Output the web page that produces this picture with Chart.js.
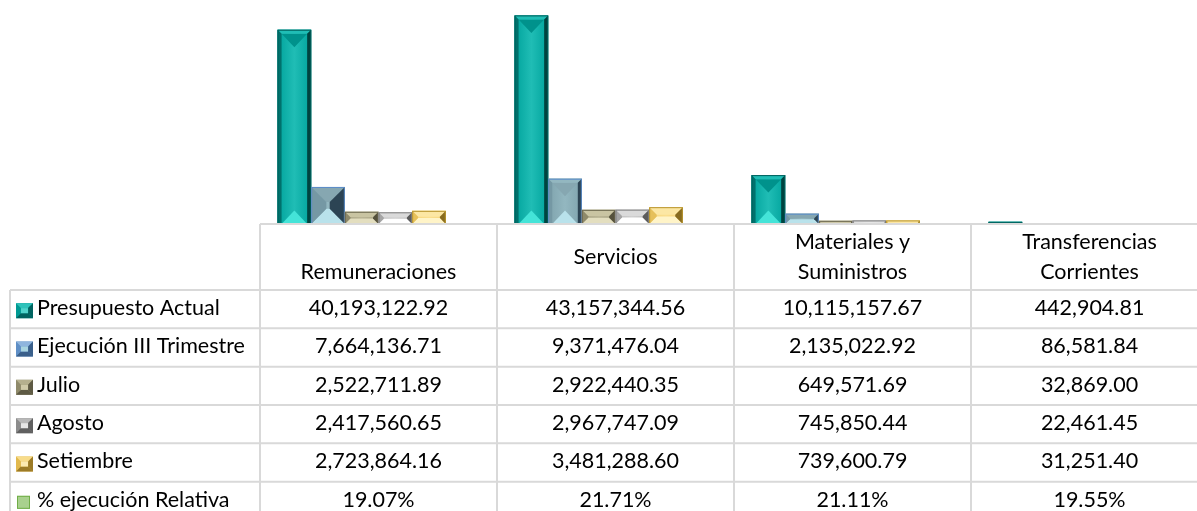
<!DOCTYPE html>
<html><head><meta charset="utf-8">
<script src="https://cdn.jsdelivr.net/npm/chart.js@4/dist/chart.umd.min.js"></script>
<style>
html,body{margin:0;padding:0;background:#fff;overflow:hidden;}
#wrap{position:relative;width:1210px;height:511px;}
</style></head><body>
<div id="wrap"><canvas id="c" width="1210" height="511"></canvas></div>
<script>
// ---- data ----
const categories = [['', 'Remuneraciones'], ['Servicios'], ['Materiales y', 'Suministros'], ['Transferencias', 'Corrientes']];
const seriesNames = ['Presupuesto Actual', 'Ejecución III Trimestre', 'Julio', 'Agosto', 'Setiembre', '% ejecución Relativa'];
const presupuestoActual = [40193122.92, 43157344.56, 10115157.67, 442904.81];
const ejecucionIII = [7664136.71, 9371476.04, 2135022.92, 86581.84];
const julio = [2522711.89, 2922440.35, 649571.69, 32869.00];
const agosto = [2417560.65, 2967747.09, 745850.44, 22461.45];
const setiembre = [2723864.16, 3481288.60, 739600.79, 31251.40];
const ejecucionRelativa = [19.07, 21.71, 21.11, 19.55]; // percent
const valueAxisMax = 45000000;

// ---- styles ----
const palettes = [
  {face:'#00A39C', mid:'#20BDB5', top:'#00928C', bottom:'#44E4D8', left:'#00716C', right:'#00433F', edge:'#005F5B', key:'#009A93', keyTop:'#2FC2BA', keyDark:'#006360', keyIn:'#4FD3CB'},
  {face:'#7FA3AD', mid:'#93B7C0', top:'#86A7B1', bottom:'#B9E2EB', left:'#7598A4', right:'#2C4454', edge:'#5B8DC9', key:'#5F8FC6', keyTop:'#8FB5DE', keyDark:'#3A5F8A', keyIn:'#A9D4E0'},
  {face:'#A29E7E', mid:'#B3AF8F', top:'#C9C4A2', bottom:'#E3DEBF', left:'#8E896A', right:'#55513C', edge:'#6E6A51', key:'#8F8A6A', keyTop:'#B5B08E', keyDark:'#5E5A44', keyIn:'#CFCAA8'},
  {face:'#BDBDBD', mid:'#CFCFCF', top:'#DADADA', bottom:'#FFFFFF', left:'#A5A5A5', right:'#5C5C5C', edge:'#7F7F7F', key:'#8C8C8C', keyTop:'#B8B8B8', keyDark:'#606060', keyIn:'#E6E6E6'},
  {face:'#F7D67A', mid:'#FADF90', top:'#FCE7A4', bottom:'#FFF4C8', left:'#E6C05A', right:'#876B20', edge:'#B8952E', key:'#E2B94E', keyTop:'#F8DC8A', keyDark:'#9C7B26', keyIn:'#FCEAB0'},
  {face:'#A9D18E', mid:'#B5D99D', top:'#A9D18E', bottom:'#A9D18E', left:'#A9D18E', right:'#A9D18E', edge:'#70AD47'}
];
const gridColor = '#D9D9D9';
const FONT = '21.5px Lato';

function poly(ctx, pts, fill) {
  ctx.beginPath();
  ctx.moveTo(pts[0][0], pts[0][1]);
  for (let i = 1; i < pts.length; i++) ctx.lineTo(pts[i][0], pts[i][1]);
  ctx.closePath();
  ctx.fillStyle = fill;
  ctx.fill();
}

function drawBevel(ctx, l, t, r, b, p) {
  const w = r - l, h = b - t;
  if (h <= 0 || w <= 0) return;
  const cx = (l + r) / 2;
  const g = ctx.createLinearGradient(l, 0, r, 0);
  g.addColorStop(0, p.face); g.addColorStop(0.5, p.mid); g.addColorStop(1, p.face);
  ctx.fillStyle = g;
  ctx.fillRect(l, t, w, h);
  if (h < 1.5) return;
  if (h <= w * 1.3) {
    const d = Math.min(w, h) / 2 * 0.9;
    poly(ctx, [[l, t], [r, t], [r - d, t + d], [l + d, t + d]], p.top);
    poly(ctx, [[l, b], [r, b], [r - d, b - d], [l + d, b - d]], p.bottom);
    poly(ctx, [[l, t], [l + d, t + d], [l + d, b - d], [l, b]], p.left);
    poly(ctx, [[r, t], [r - d, t + d], [r - d, b - d], [r, b]], p.right);
  } else {
    const ds = w * 0.12, dv = w * 0.4;
    poly(ctx, [[l + ds, t + ds], [r - ds, t + ds], [cx, t + ds + dv]], p.top);
    poly(ctx, [[l, t], [r, t], [r - ds, t + ds], [l + ds, t + ds]], p.mid);
    poly(ctx, [[l + ds, b], [r - ds, b], [cx, b - dv]], p.bottom);
    poly(ctx, [[l, t], [l + ds, t + ds], [l + ds, b], [l, b]], p.left);
    poly(ctx, [[r, t], [r - ds, t + ds], [r - ds, b], [r, b]], p.right);
  }
  ctx.strokeStyle = p.edge;
  ctx.lineWidth = 1;
  ctx.strokeRect(l + 0.5, t + 0.5, w - 1, h - 1);
}

function drawKey(ctx, l, t, r, b, p) {
  const w = r - l, h = b - t, d = Math.min(w, h) * 0.33;
  ctx.fillStyle = p.key; ctx.fillRect(l, t, w, h);
  poly(ctx, [[l, t], [r, t], [r - d, t + d], [l + d, t + d]], p.keyTop);
  poly(ctx, [[l, b], [r, b], [r - d, b - d], [l + d, b - d]], p.keyDark);
  poly(ctx, [[r, t], [r - d, t + d], [r - d, b - d], [r, b]], p.keyDark);
  ctx.fillStyle = p.keyIn;
  ctx.fillRect(l + d, t + d, w - 2 * d, h - 2 * d);
}

const bevelPlugin = {
  id: 'bevel',
  afterDatasetsDraw(chart) {
    const ctx = chart.ctx;
    ctx.save();
    chart.data.datasets.forEach((ds, i) => {
      const meta = chart.getDatasetMeta(i);
      meta.data.forEach(el => {
        const l = el.x - el.width / 2, r = el.x + el.width / 2;
        const t = Math.min(el.y, el.base), b = Math.max(el.y, el.base);
        drawBevel(ctx, l, t, r, b, palettes[i]);
      });
    });
    ctx.restore();
  }
};

function fmtNum(v) {
  return v.toLocaleString('en-US', {minimumFractionDigits: 2, maximumFractionDigits: 2});
}

const tablePlugin = {
  id: 'dataTable',
  afterDraw(chart) {
    const ctx = chart.ctx;
    const ca = chart.chartArea;
    const xs = chart.scales.x;
    const n = categories.length;
    const colW = (ca.right - ca.left) / n;
    const headTop = ca.bottom, headBot = ca.bottom + 66, rowH = 38.33;
    const tableLeft = 10;
    const rows = [presupuestoActual, ejecucionIII, julio, agosto, setiembre, ejecucionRelativa];
    const bottom = headBot + rowH * rows.length;
    ctx.save();
    ctx.strokeStyle = gridColor;
    ctx.lineWidth = 2;
    ctx.beginPath();
    ctx.moveTo(ca.left, headTop); ctx.lineTo(chart.width, headTop);
    for (let k = 0; k <= rows.length; k++) {
      const y = headBot + rowH * k;
      ctx.moveTo(tableLeft, y); ctx.lineTo(chart.width, y);
    }
    ctx.moveTo(tableLeft, headBot); ctx.lineTo(tableLeft, bottom);
    for (let c = 0; c <= n; c++) {
      const x = ca.left + colW * c;
      ctx.moveTo(x, headTop); ctx.lineTo(x, bottom);
    }
    ctx.stroke();

    ctx.font = FONT;
    ctx.fillStyle = '#000';
    ctx.textBaseline = 'middle';
    ctx.textAlign = 'center';
    categories.forEach((lines, c) => {
      const cx = xs.getPixelForValue(c);
      const mid = (headTop + headBot) / 2;
      const lh = 30;
      lines.forEach((ln, j) => {
        const y = mid + (j - (lines.length - 1) / 2) * lh;
        ctx.fillText(ln, cx, y);
      });
    });
    rows.forEach((vals, r) => {
      const yc = headBot + rowH * r + rowH / 2 - 1;
      const p = palettes[r];
      if (r < 5) drawKey(ctx, 16, yc - 5, 33, yc + 10, p);
      else {
        ctx.fillStyle = p.face; ctx.fillRect(17, yc - 4, 13, 13);
        ctx.strokeStyle = p.edge; ctx.lineWidth = 1; ctx.strokeRect(17.5, yc - 3.5, 12, 12);
      }
      ctx.fillStyle = '#000';
      ctx.textAlign = 'left';
      ctx.fillText(seriesNames[r], 37, yc);
      ctx.textAlign = 'center';
      vals.forEach((v, c) => {
        const txt = r === 5 ? v.toFixed(2) + '%' : fmtNum(v);
        ctx.fillText(txt, xs.getPixelForValue(c), yc);
      });
    });
    ctx.restore();
  }
};

const seriesData = [presupuestoActual, ejecucionIII, julio, agosto, setiembre, ejecucionRelativa.map(v => v / 100)];

new Chart(document.getElementById('c'), {
  type: 'bar',
  data: {
    labels: categories,
    datasets: seriesNames.map((name, i) => ({
      label: name,
      data: seriesData[i],
      backgroundColor: palettes[i].face,
      borderWidth: 0
    }))
  },
  options: {
    responsive: false,
    animation: false,
    layout: {padding: {left: 260, right: 2, top: 6.5, bottom: 287}},
    plugins: {legend: {display: false}, tooltip: {enabled: false}},
    datasets: {bar: {categoryPercentage: 0.852, barPercentage: 1}},
    scales: {
      x: {display: false},
      y: {display: false, min: 0, max: valueAxisMax}
    }
  },
  plugins: [bevelPlugin, tablePlugin]
});
</script>
</body></html>
